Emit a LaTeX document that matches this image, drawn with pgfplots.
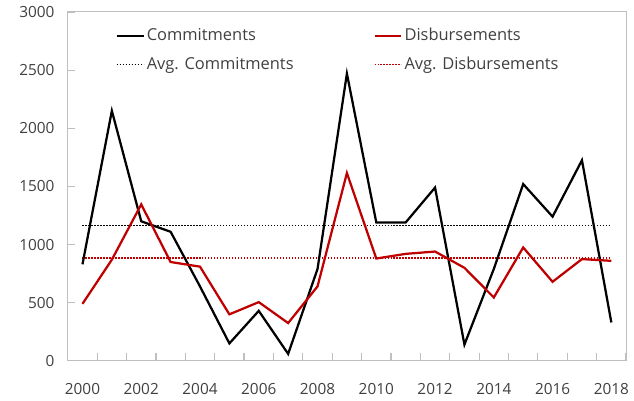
\documentclass[border=0pt]{standalone}
\usepackage{pgfplots}
\pgfplotsset{compat=1.18}
\usepackage{fontspec}
\setmainfont{Open Sans}
\definecolor{cred}{HTML}{C00000}
\definecolor{txt}{HTML}{404040}
\definecolor{axgray}{HTML}{BFBFBF}

\begin{document}
\fontsize{15.4bp}{18bp}\selectfont
\begin{tikzpicture}
\begin{axis}[
  scale only axis,
  width=560bp, height=350bp,
  xmin=1999.5, xmax=2018.5,
  ymin=0, ymax=3000,
  ytick={0,500,...,3000},
  xtick={2000,2002,...,2018},
  xticklabels={2000,2002,2004,2006,2008,2010,2012,2014,2016,2018},
  minor xtick={1999.5,2000.5,...,2018.5},
  tick align=inside,
  xtick pos=bottom,
  ytick pos=left,
  major tick length=7bp,
  minor tick length=8bp,
  every major tick/.append style={draw=axgray, line width=1.2bp},
  every minor tick/.append style={draw=axgray, line width=1.2bp},
  major x tick style={draw=none},
  axis line style={axgray, line width=1bp},
  tick label style={font=\fontsize{15.4bp}{18bp}\selectfont, text=txt},
  /pgf/number format/assume math mode=true,
  /pgf/number format/1000 sep={},
  xticklabel style={yshift=-17bp},
  yticklabel style={xshift=-8bp},
  legend columns=2,
  legend cell align=left,
  legend style={at={(rel axis cs:0.08,0.965)}, anchor=north west,
    draw=none, fill=none, text=txt,
    font=\fontsize{16.5bp}{19bp}\selectfont,
    /tikz/every even column/.append style={column sep=78bp},
    row sep=10bp},
  legend image code/.code={\draw[#1] (0bp,0bp) -- (27bp,0bp);},
]
\addlegendimage{black, line width=2.25bp}
\addlegendimage{cred, line width=2.25bp}
\addlegendimage{black, line width=1.3bp, dash pattern=on 1.4bp off 1.6bp}
\addlegendimage{cred, line width=1.3bp, dash pattern=on 1.4bp off 1.6bp}
\legend{Commitments, Disbursements, Avg. Commitments, Avg. Disbursements}

\addplot[black, line width=1.3bp, dash pattern=on 1.4bp off 1.6bp, forget plot] coordinates {
  (2000,1165) (2018,1165)
};
\addplot[cred, line width=1.3bp, dash pattern=on 1.4bp off 1.6bp, forget plot] coordinates {
  (2000,885) (2018,885)
};
\addplot[black, line width=2.25bp, forget plot] coordinates {
  (2000,830) (2001,2150) (2002,1200) (2003,1110) (2004,640)
  (2005,150) (2006,430) (2007,60) (2008,790) (2009,2470)
  (2010,1190) (2011,1190) (2012,1490) (2013,140) (2014,790)
  (2015,1520) (2016,1240) (2017,1725) (2018,330)
};
\addplot[cred, line width=2.25bp, forget plot] coordinates {
  (2000,490) (2001,870) (2002,1345) (2003,850) (2004,810)
  (2005,400) (2006,505) (2007,325) (2008,640) (2009,1615)
  (2010,880) (2011,920) (2012,940) (2013,800) (2014,545)
  (2015,975) (2016,680) (2017,875) (2018,860)
};
\end{axis}
\path (current axis.south west) ++(-68bp,-40bp) rectangle ++(634bp,402bp);
\end{tikzpicture}
\end{document}
